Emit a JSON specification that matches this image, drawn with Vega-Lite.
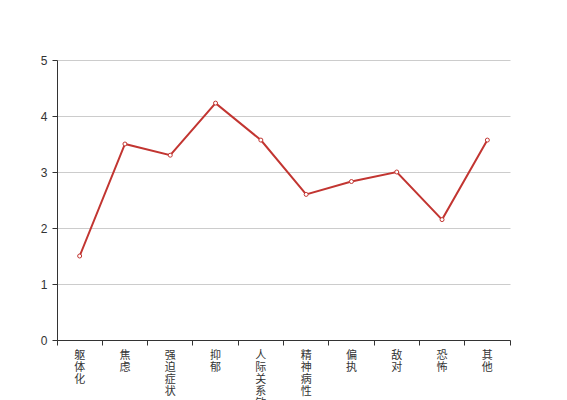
{
  "$schema": "https://vega.github.io/schema/vega-lite/v6.json",
  "width": 453,
  "height": 280,
  "autosize": {"type": "none"},
  "padding": {"left": 57, "top": 60, "right": 57, "bottom": 60},
  "background": "white",
  "config": {"view": {"stroke": null}},
  "data": {
    "values": [
      {"factor": "躯体化", "score": 1.5},
      {"factor": "焦虑", "score": 3.5},
      {"factor": "强迫症状", "score": 3.3},
      {"factor": "抑郁", "score": 4.23},
      {"factor": "人际关系敏感", "score": 3.57},
      {"factor": "精神病性", "score": 2.6},
      {"factor": "偏执", "score": 2.83},
      {"factor": "敌对", "score": 3.0},
      {"factor": "恐怖", "score": 2.15},
      {"factor": "其他", "score": 3.57}
    ]
  },
  "mark": {
    "type": "line",
    "color": "#c23531",
    "strokeWidth": 2,
    "point": {"filled": true, "fill": "white", "stroke": "#c23531", "strokeWidth": 1, "size": 16}
  },
  "encoding": {
    "x": {
      "field": "factor",
      "type": "nominal",
      "sort": null,
      "bandPosition": 0.5,
      "scale": {"type": "band", "paddingInner": 0, "paddingOuter": 0},
      "axis": {
        "title": null,
        "bandPosition": 1,
        "tickExtra": true,
        "labelAngle": 0,
        "labelAlign": "center",
        "labelBaseline": "top",
        "labelExpr": "split(datum.label, '')",
        "labelLineHeight": 12,
        "labelFont": "Noto Sans CJK SC",
        "labelFontSize": 11,
        "labelColor": "#333",
        "labelPadding": 4,
        "tickSize": 5,
        "tickColor": "#333",
        "domainColor": "#333",
        "labelOverlap": false,
        "labelBound": false,
        "grid": false
      }
    },
    "y": {
      "field": "score",
      "type": "quantitative",
      "scale": {"domain": [0, 5]},
      "axis": {
        "title": null,
        "values": [0, 1, 2, 3, 4, 5],
        "labelOverlap": false,
        "labelFont": "Liberation Sans",
        "labelFontSize": 12,
        "labelColor": "#333",
        "labelPadding": 5,
        "ticks": true,
        "tickSize": 5,
        "tickColor": "#333",
        "domainColor": "#333",
        "gridColor": "#ccc",
        "grid": true
      }
    }
  }
}
